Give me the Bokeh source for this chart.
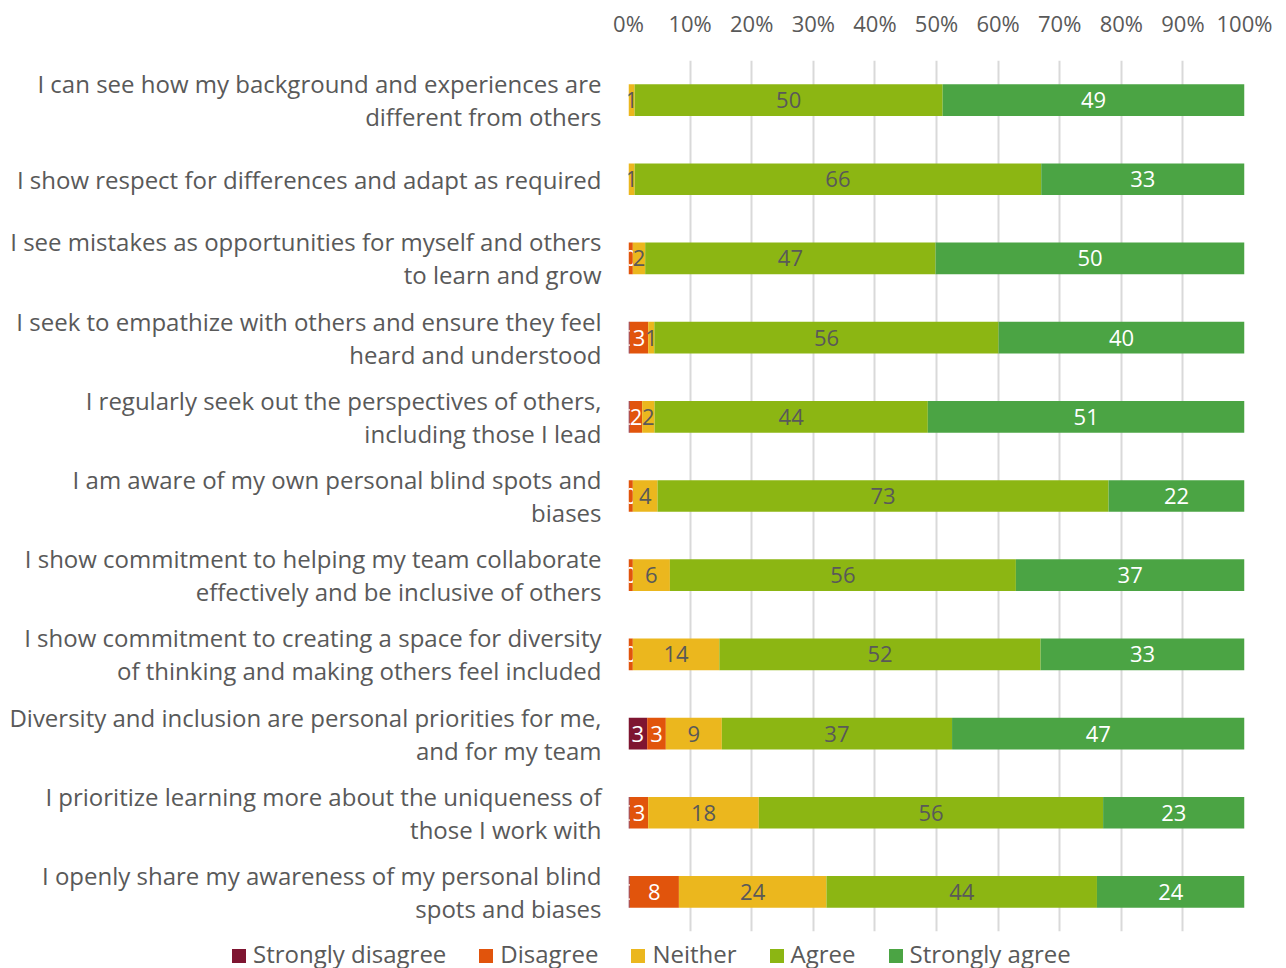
from bokeh.plotting import figure
from bokeh.layouts import column
from bokeh.models import FactorRange, Range1d, PrintfTickFormatter, FixedTicker, ColumnDataSource, Div
from bokeh.core.properties import value
from bokeh.embed import file_html
from bokeh.resources import INLINE

categories = [
    "I can see how my background and experiences are\ndifferent from others",
    "I show respect for differences and adapt as required",
    "I see mistakes as opportunities for myself and others\nto learn and grow",
    "I seek to empathize with others and ensure they feel\nheard and understood",
    "I regularly seek out the perspectives of others,\nincluding those I lead",
    "I am aware of my own personal blind spots and\nbiases",
    "I show commitment to helping my team collaborate\neffectively and be inclusive of others",
    "I show commitment to creating a space for diversity\nof thinking and making others feel included",
    "Diversity and inclusion are personal priorities for me,\nand for my team",
    "I prioritize learning more about the uniqueness of\nthose I work with",
    "I openly share my awareness of my personal blind\nspots and biases",
]

strongly_disagree = [0, 0, 0, 0.2, 0.2, 0, 0, 0, 3, 0.2, 0.2]
disagree = [0, 0, 0.7, 3, 2, 0.7, 0.7, 0.7, 3, 3, 8]
neither = [1, 1, 2, 1, 2, 4, 6, 14, 9, 18, 24]
agree = [50, 66, 47, 56, 44, 73, 56, 52, 37, 56, 44]
strongly_agree = [49, 33, 50, 40, 51, 22, 37, 33, 47, 23, 24]

series_names = ["Strongly disagree", "Disagree", "Neither", "Agree", "Strongly agree"]
series_values = [strongly_disagree, disagree, neither, agree, strongly_agree]
colors = ["#7E1531", "#E1540C", "#EBB71E", "#8CB613", "#4BA444"]
label_colors = ["white", "white", "#595959", "#595959", "white"]
x_ticks = [0, 10, 20, 30, 40, 50, 60, 70, 80, 90, 100]

GRAY = "#595959"
FONT = "Open Sans"
W = 1278

totals = [sum(s[i] for s in series_values) for i in range(len(categories))]

p = figure(width=W, height=937, output_backend="svg", toolbar_location=None,
           y_range=FactorRange(factors=list(reversed(categories))), x_range=Range1d(0, 100),
           x_axis_location="above",
           min_border_left=628, min_border_right=W - 1244, min_border_top=60, min_border_bottom=6)
p.outline_line_color = None
p.background_fill_color = "white"
p.border_fill_color = "white"

p.ygrid.grid_line_color = None
p.xgrid.grid_line_color = "#D9D9D9"
p.xgrid.grid_line_width = 2
p.xgrid.ticker = FixedTicker(ticks=x_ticks)

p.xaxis.ticker = FixedTicker(ticks=x_ticks)
p.xaxis.formatter = PrintfTickFormatter(format="%d%%")
p.xaxis.axis_line_color = None
p.xaxis.major_tick_line_color = None
p.xaxis.minor_tick_line_color = None
p.xaxis.major_label_text_font = FONT
p.xaxis.major_label_text_font_size = "22px"
p.xaxis.major_label_text_color = GRAY
p.xaxis.major_label_standoff = 17

p.yaxis.axis_line_color = None
p.yaxis.major_tick_line_color = None
p.yaxis.minor_tick_line_color = None
p.yaxis.major_label_text_font = FONT
p.yaxis.major_label_text_font_size = "24px"
p.yaxis.major_label_text_color = GRAY
p.yaxis.major_label_standoff = 21
p.yaxis.major_label_text_line_height = 1.0
p.yaxis.major_label_text_align = "right"

left = [0.0] * len(categories)
for name, vals, col, lcol in zip(series_names, series_values, colors, label_colors):
    pct = [v / t * 100 for v, t in zip(vals, totals)]
    right = [l + w for l, w in zip(left, pct)]
    src = ColumnDataSource(dict(y=categories, left=left, right=right))
    p.hbar(y="y", left="left", right="right", height=0.4, source=src,
           fill_color=col, line_color=None)
    ly, lx, lt = [], [], []
    for k, l, w, v in zip(categories, left, pct, vals):
        if v > 0:
            ly.append(k)
            lx.append(l + w / 2)
            lt.append(str(int(v)))
    p.text(x=lx, y=ly, text=lt, text_align="center", text_baseline="middle",
           text_font=value(FONT), text_font_size=value("22px"), text_color=lcol)
    left = right

# legend row below the chart
item_html = "".join(
    '<span style="display:inline-block;width:14px;height:14px;background:%s;'
    'margin-right:7px;vertical-align:baseline;"></span>'
    '<span style="margin-right:33px;">%s</span>' % (c, n)
    for n, c in zip(series_names, colors)
)
legend_div = Div(
    text='<div style="font-family:\'Open Sans\';font-size:24px;color:%s;white-space:nowrap;'
         'padding-left:232px;line-height:33px;">%s</div>' % (GRAY, item_html),
    width=W, height=31, margin=0,
)

open("out.html", "w").write(file_html(column(p, legend_div, spacing=0), INLINE))
